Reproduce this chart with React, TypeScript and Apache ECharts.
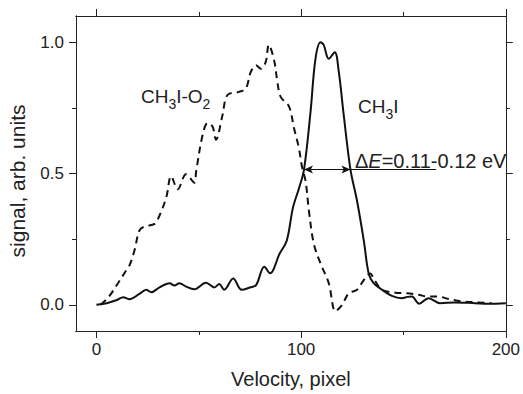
import React, { useEffect, useRef } from "react";
import * as echarts from "echarts";

// CH3I (solid)
const ch3iV = [0, 5, 10, 13, 16, 21, 24.3, 26.8, 30.8, 35.7, 38.1, 40.5, 43.8, 47.8, 53.5, 57.6, 60, 62.4, 66.8, 70.9, 75, 78, 82, 84.8, 89.5, 93, 96, 99, 101.4, 104.6, 107, 109.5, 111, 113.5, 116.4, 118.4, 120.8, 124.1, 127.3, 130.6, 133, 135.4, 139.5, 144.3, 149.2, 152, 154.1, 157.7, 162.2, 167.9, 175, 185, 191.4, 200];
const ch3iS = [0, 0.006, 0.018, 0.029, 0.021, 0.041, 0.057, 0.048, 0.066, 0.082, 0.073, 0.082, 0.069, 0.059, 0.084, 0.066, 0.079, 0.057, 0.1, 0.057, 0.066, 0.075, 0.145, 0.12, 0.195, 0.245, 0.37, 0.445, 0.515, 0.736, 0.937, 1.0, 0.99, 0.937, 0.962, 0.887, 0.723, 0.515, 0.396, 0.245, 0.119, 0.082, 0.057, 0.034, 0.025, 0.03, 0.031, 0.004, 0.025, 0.006, 0.009, 0.006, 0.004, 0.006];

// CH3I-O2 (dashed)
const o2V = [2, 6, 10.5, 14.6, 16.2, 18.6, 21, 23.5, 28.4, 30.8, 34.1, 36.5, 39.7, 43.8, 47.8, 48.7, 51.9, 54.3, 56.7, 58.4, 61.6, 64, 69.7, 73, 75.4, 77.9, 80.3, 82.7, 84.2, 86.8, 88.4, 90, 94.1, 96.5, 98.9, 100.5, 102.2, 103.8, 106.2, 109.5, 113.5, 116.8, 120, 123.3, 127.3, 130.6, 133.8, 135.4, 139.5, 146, 151.6, 157.3, 162.2, 167, 172, 178.4, 186.5, 193];
const o2S = [0, 0.03, 0.082, 0.132, 0.151, 0.208, 0.283, 0.298, 0.308, 0.34, 0.409, 0.49, 0.44, 0.497, 0.465, 0.509, 0.648, 0.692, 0.679, 0.629, 0.723, 0.799, 0.811, 0.824, 0.887, 0.912, 0.899, 0.925, 0.99, 0.931, 0.849, 0.792, 0.755, 0.673, 0.597, 0.522, 0.47, 0.358, 0.232, 0.157, 0.082, -0.025, 0, 0.044, 0.057, 0.094, 0.119, 0.1, 0.057, 0.046, 0.044, 0.038, 0.031, 0.031, 0.022, 0.013, 0.009, 0.006];

const xMajor = [0, 100, 200];
const xMinor = [50, 150];
const yMajor = [0, 0.5, 1.0];
const yMinor = [0.25, 0.75];

// FWHM marker: [left, right, leader end] velocity, and level
const fwhmV = [101.4, 124.1, 166];
const fwhmLevel = 0.515;

const FONT = "'Liberation Sans', Arial, sans-serif";
const INK = "#222";

export default function App() {
  const ref = useRef<HTMLDivElement>(null);
  useEffect(() => {
    document.body.style.margin = "0";
    const chart = echarts.init(ref.current!, null, { renderer: "svg" });
    const axisLine = { show: true, onZero: false, lineStyle: { color: INK, width: 1 } };
    const xBase = { type: "value", min: -10, max: 200, gridIndex: 0, splitLine: { show: false }, axisLine };
    const yBase = { type: "value", min: -0.1, max: 1.1, gridIndex: 0, splitLine: { show: false }, axisLine };
    const subStyle = { fontSize: 14, fontFamily: FONT, fill: INK, padding: [16, 0, 0, 0] };
    chart.setOption({
      animation: false,
      textStyle: { fontFamily: FONT },
      grid: { left: 76, right: 15, top: 16, bottom: 59 },
      xAxis: [
        {
          ...xBase, position: "bottom",
          name: "Velocity, pixel", nameLocation: "middle", nameGap: 38,
          nameTextStyle: { fontSize: 20, color: INK, fontFamily: FONT },
          axisTick: { show: true, customValues: xMajor, length: 7, lineStyle: { color: INK } },
          axisLabel: { customValues: xMajor, fontSize: 17, color: INK, margin: 10, fontFamily: FONT },
        },
        { ...xBase, position: "bottom", axisTick: { show: true, customValues: xMinor, length: 4, lineStyle: { color: INK } }, axisLabel: { show: false } },
        { ...xBase, position: "top", axisTick: { show: true, customValues: xMajor, length: 7, lineStyle: { color: INK } }, axisLabel: { show: false } },
        { ...xBase, position: "top", axisTick: { show: true, customValues: xMinor, length: 4, lineStyle: { color: INK } }, axisLabel: { show: false } },
      ],
      yAxis: [
        {
          ...yBase, position: "left",
          axisTick: { show: true, customValues: yMajor, length: 7, lineStyle: { color: INK } },
          axisLabel: { customValues: yMajor, fontSize: 17, color: INK, margin: 12, fontFamily: FONT, formatter: (v: number) => v.toFixed(1) },
        },
        { ...yBase, position: "left", axisTick: { show: true, customValues: yMinor, length: 4, lineStyle: { color: INK } }, axisLabel: { show: false } },
        { ...yBase, position: "right", axisTick: { show: true, customValues: yMajor, length: 7, lineStyle: { color: INK } }, axisLabel: { show: false } },
        { ...yBase, position: "right", axisTick: { show: true, customValues: yMinor, length: 4, lineStyle: { color: INK } }, axisLabel: { show: false } },
      ],
      series: [
        {
          type: "line", name: "CH3I-O2", xAxisIndex: 0, yAxisIndex: 0,
          data: o2V.map((v, i) => [v, o2S[i]]),
          showSymbol: false, smooth: 0.35,
          lineStyle: { color: "#111", width: 2, type: [7, 5] },
          z: 2,
        },
        {
          type: "line", name: "CH3I", xAxisIndex: 0, yAxisIndex: 0,
          data: ch3iV.map((v, i) => [v, ch3iS[i]]),
          showSymbol: false, smooth: 0.35,
          lineStyle: { color: "#111", width: 2 },
          z: 3,
          markLine: {
            silent: true,
            label: { show: false },
            lineStyle: { color: "#111", width: 1, type: "solid" },
            symbolSize: [6, 9],
            data: [
              [
                { coord: [fwhmV[0], fwhmLevel], symbol: "arrow" },
                { coord: [fwhmV[1], fwhmLevel], symbol: "arrow" },
              ],
              [
                { coord: [fwhmV[1], fwhmLevel], symbol: "none" },
                { coord: [fwhmV[2], fwhmLevel], symbol: "none" },
              ],
            ],
          },
        },
      ],
      graphic: [
        {
          type: "text", x: 17, y: 181, rotation: Math.PI / 2,
          style: { text: "signal, arb. units", fill: INK, fontSize: 21, fontFamily: FONT, align: "center", verticalAlign: "middle" },
        },
        {
          type: "text", x: 141, y: 81,
          style: { text: "CH{s|3}I-O{s|2}", fill: INK, fontSize: 19, fontFamily: FONT, rich: { s: subStyle } },
        },
        {
          type: "text", x: 358, y: 91,
          style: { text: "CH{s|3}I", fill: INK, fontSize: 19, fontFamily: FONT, rich: { s: subStyle } },
        },
        {
          type: "text", x: 355, y: 151,
          style: {
            text: "Δ{i|E}=0.11-0.12 eV", fill: INK, fontSize: 20, fontFamily: FONT,
            rich: { i: { fontSize: 20, fontStyle: "italic", fontFamily: FONT, fill: INK } },
          },
        },
      ],
    });
    return () => chart.dispose();
  }, []);
  return <div ref={ref} style={{ width: 523, height: 394 }} />;
}
